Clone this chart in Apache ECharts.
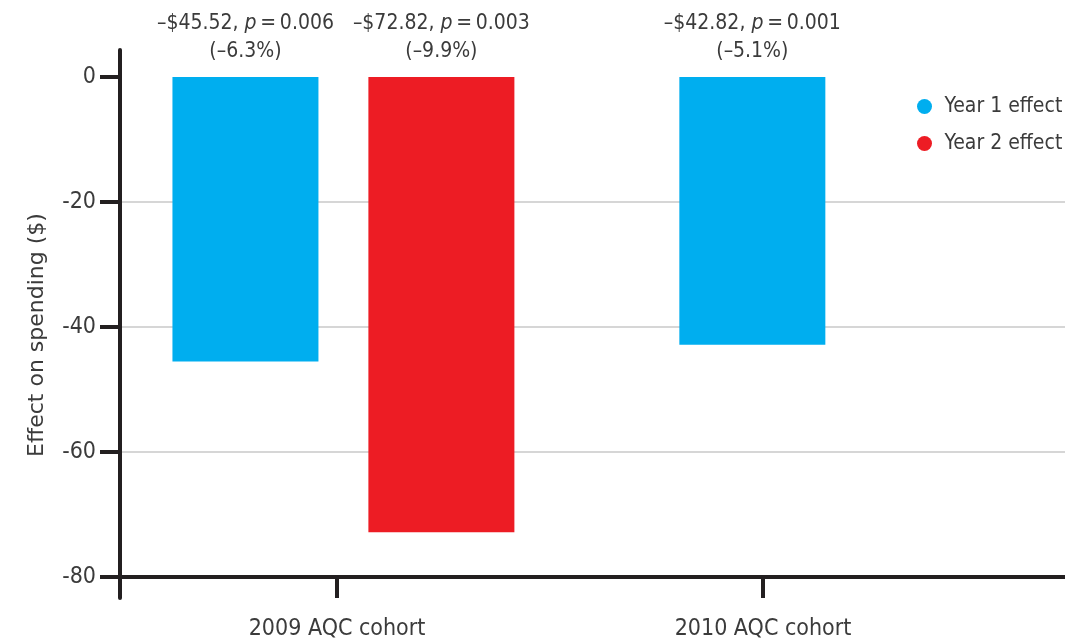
<!DOCTYPE html>
<html>
<head>
<meta charset="utf-8">
<script src="https://cdn.jsdelivr.net/npm/echarts@6/dist/echarts.min.js"></script>
<style>
  html, body { margin: 0; padding: 0; background: #fff; }
  #chart { width: 1078px; height: 643px; }
</style>
</head>
<body>
<div id="chart"></div>
<script>
  // data
  var cohorts = ['2009 AQC cohort', '2010 AQC cohort'];
  var year1 = [-45.52, -42.82];
  var year2 = [-72.82, null];
  var year1Pvals = ['0.006', '0.001'];
  var year2Pvals = ['0.003', null];
  var year1Pct = ['–6.3%', '–5.1%'];
  var year2Pct = ['–9.9%', null];
  var yTicks = [0, -20, -40, -60, -80];

  var FONT = "'Liberation Sans Narrow', 'DejaVu Sans Condensed', 'Roboto', sans-serif";
  var TEXT = '#3b3b3b';
  var AXIS = '#231f20';
  var THIN = '\u2009';

  // each cohort sits at 2*i+1 on the x scale
  function cohortPos (i) { return 2 * i + 1 }

  function labelText (vals, pvals, pcts) {
    return function (p) {
      var i = p.data[2];
      var amt = '–$' + Math.abs(vals[i]).toFixed(2);
      return amt + ', {i|p}' + THIN + '=' + THIN + pvals[i] + '\n(' + pcts[i] + ')';
    }
  }

  var y1Data = year1.map(function (v, i) {
    var off = year2[i] == null ? -0.05 : -0.43;
    return [cohortPos(i) + off, v, i];
  });
  var y2Data = [];
  year2.forEach(function (v, i) {
    if (v != null) y2Data.push([cohortPos(i) + 0.49, v, i]);
  });

  var barLabel = {
    show: true,
    position: 'top',
    distance: 11,
    fontFamily: FONT,
    fontSize: 21,
    lineHeight: 28,
    color: TEXT,
    rich: {
      i: { fontStyle: 'italic', fontFamily: FONT, fontSize: 21, color: TEXT }
    }
  };

  var chart = echarts.init(document.getElementById('chart'));
  chart.setOption({
    animation: false,
    textStyle: { fontFamily: FONT },
    grid: { left: 120, right: 13, top: 50, bottom: 45, containLabel: false },
    legend: {
      orient: 'vertical',
      left: 912,
      top: 91,
      icon: 'circle',
      itemWidth: 30,
      itemHeight: 15,
      itemGap: 16,
      textStyle: { fontFamily: FONT, fontSize: 21, color: TEXT },
      data: ['Year 1 effect', 'Year 2 effect']
    },
    xAxis: {
      type: 'value',
      min: -0.019,
      max: 4.418,
      axisLine: { show: false, onZero: false },
      splitLine: { show: false },
      axisTick: {
        customValues: cohorts.map(function (c, i) { return cohortPos(i) }),
        inside: true,
        length: 21,
        lineStyle: { color: AXIS, width: 4 }
      },
      axisLabel: {
        customValues: cohorts.map(function (c, i) { return cohortPos(i) }),
        formatter: function (v) { return cohorts[Math.round((v - 1) / 2)] },
        margin: 20,
        fontFamily: FONT,
        fontSize: 23,
        color: TEXT
      }
    },
    yAxis: {
      type: 'value',
      min: -83.36,
      max: 4.32,
      interval: 20,
      name: 'Effect on spending ($)',
      nameLocation: 'middle',
      nameGap: 72,
      nameTextStyle: { fontFamily: 'DejaVu Sans', fontSize: 22, color: TEXT, padding: [0, 22, 0, 0] },
      axisLine: { show: true, onZero: false, lineStyle: { color: AXIS, width: 4 } },
      axisTick: {
        customValues: yTicks,
        length: 20,
        lineStyle: { color: AXIS, width: 4 }
      },
      axisLabel: {
        customValues: yTicks,
        margin: 24,
        fontFamily: FONT,
        fontSize: 23,
        color: TEXT
      },
      splitLine: {
        show: true,
        showMinLine: false,
        showMaxLine: false,
        lineStyle: { color: '#c8c8c8', width: 1.5 }
      }
    },
    series: [
      {
        name: 'Year 1 effect',
        type: 'bar',
        barWidth: 146,
        barGap: '-100%',
        itemStyle: { color: '#00aeef' },
        label: Object.assign({ formatter: labelText(year1, year1Pvals, year1Pct) }, barLabel),
        data: y1Data,
        markLine: {
          silent: true,
          symbol: 'none',
          label: { show: false },
          lineStyle: { color: AXIS, width: 4, type: 'solid' },
          data: [{ yAxis: yTicks[yTicks.length - 1] }]
        }
      },
      {
        name: 'Year 2 effect',
        type: 'bar',
        barWidth: 146,
        barGap: '-100%',
        itemStyle: { color: '#ed1c24' },
        label: Object.assign({ formatter: labelText(year2, year2Pvals, year2Pct) }, barLabel),
        data: y2Data
      }
    ]
  });
</script>
</body>
</html>
